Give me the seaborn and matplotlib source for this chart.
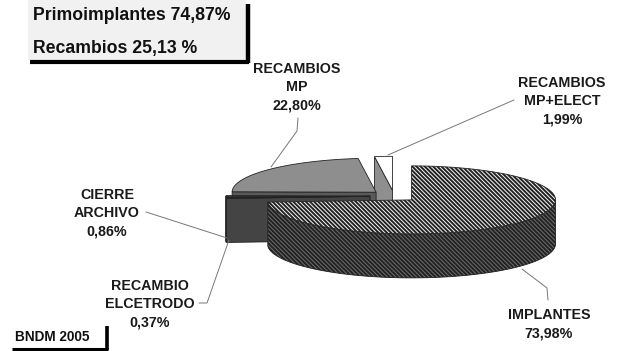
import numpy as np
import matplotlib
matplotlib.use("Agg")
import matplotlib.pyplot as plt
from matplotlib.patches import Polygon, Rectangle
import seaborn as sns

# ---- data -------------------------------------------------------------
categories = ["IMPLANTES", "RECAMBIO\nELCETRODO", "CIERRE\nARCHIVO",
              "RECAMBIOS\nMP", "RECAMBIOS\nMP+ELECT"]
shares = [73.98, 0.37, 0.86, 22.80, 1.99]
primo_pct = 74.87
recambio_pct = 25.13
source_note = "BNDM 2005"

# ---- style ------------------------------------------------------------
sns.set_theme(style="white")
plt.rcParams["font.family"] = ["Liberation Sans", "DejaVu Sans"]
plt.rcParams["hatch.linewidth"] = 1.4

top_colors = ["#f4f4f4", "#4a4a4a", "#333333", "#8e8e8e", "#ffffff"]
side_colors = ["#6e6e6e", "#444444", "#2e2e2e", "#5a5a5a", "#8f8f8f"]
hatches = ["\\" * 8, None, None, None, None]
edge = "#222222"

label_pos = [(549, 324), (150, 304), (107, 213), (297, 87), (562, 101)]
leaders = [
    [(548, 300), (547, 288), (522, 269)],
    [(199, 303), (207, 303), (229, 240)],
    [(146, 212), (227, 238)],
    [(298, 118), (297, 131), (271, 167)],
    [(514, 100), (388, 155)],
]

# pie geometry in pixel units
CX, CY = 394, 196
RX, RY = 144, 34
H = 44
D = 24


def fmt_pct(v):
    return f"{v:.2f}".replace(".", ",") + "%"


def rim(cx, cy, t_deg, down=0.0):
    t = np.radians(t_deg)
    return cx + RX * np.cos(t), cy - RY * np.sin(t) + down


def arc(cx, cy, t1, t2, down=0.0):
    n = max(3, int(abs(t2 - t1) * 2))
    ts = np.linspace(t1, t2, n)
    return [rim(cx, cy, t, down) for t in ts]


fig = plt.figure(figsize=(6.21, 3.51), dpi=100)
ax = fig.add_axes([0, 0, 1, 1])
ax.set_xlim(0, 621)
ax.set_ylim(351, 0)
ax.axis("off")

# slice angles: start at 12 o'clock, run clockwise
cum = np.concatenate([[0], np.cumsum(shares)])
total = cum[-1]
slices = []
for i, v in enumerate(shares):
    a_start = 90 - 360 * cum[i] / total
    a_end = 90 - 360 * cum[i + 1] / total
    t1, t2 = a_end, a_start
    mid = np.radians((t1 + t2) / 2)
    cx = CX + D * np.cos(mid)
    cy = CY - D * np.sin(mid) * RY / RX
    slices.append(dict(i=i, t1=t1, t2=t2, cx=cx, cy=cy, depth=np.sin(mid)))

# back-to-front drawing
z = 1
for s in sorted(slices, key=lambda s: -s["depth"]):
    i, t1, t2, cx, cy = s["i"], s["t1"], s["t2"], s["cx"], s["cy"]
    side_kw = dict(facecolor=side_colors[i], edgecolor=edge, linewidth=0.6,
                   hatch=hatches[i], zorder=z)
    # radial cut faces
    if np.cos(np.radians(t1)) > 1e-9:
        p = [(cx, cy), rim(cx, cy, t1), rim(cx, cy, t1, H), (cx, cy + H)]
        ax.add_patch(Polygon(p, closed=True, **side_kw))
    if np.cos(np.radians(t2)) < -1e-9:
        p = [(cx, cy), rim(cx, cy, t2), rim(cx, cy, t2, H), (cx, cy + H)]
        ax.add_patch(Polygon(p, closed=True, **side_kw))
    # outer wall, front half only
    for k in range(-2, 3):
        lo = max(t1, 180 + 360 * k)
        hi = min(t2, 360 + 360 * k)
        if hi > lo:
            p = arc(cx, cy, lo, hi) + arc(cx, cy, hi, lo, H)
            ax.add_patch(Polygon(p, closed=True, **side_kw))
    # top face
    p = [(cx, cy)] + arc(cx, cy, t1, t2)
    ax.add_patch(Polygon(p, closed=True, facecolor=top_colors[i],
                         edgecolor=edge, linewidth=0.6, hatch=hatches[i],
                         zorder=z + 0.5))
    z += 1

# labels and leader lines
for i, v in enumerate(shares):
    x, y = label_pos[i]
    ax.text(x, y, f"{categories[i]}\n{fmt_pct(v)}", ha="center", va="center",
            multialignment="center", fontsize=10.3, fontweight="bold",
            linespacing=1.38, color="#1a1a1a", zorder=20)
    lx, ly = zip(*leaders[i])
    ax.plot(lx, ly, color="#777777", linewidth=0.7, zorder=19)

# summary box
ax.add_patch(Rectangle((28, 0), 218, 60, facecolor="#f1f1f1",
                       edgecolor="none", zorder=1))
ax.plot([247.5, 247.5], [4, 63], color="black", linewidth=3.2,
        solid_capstyle="butt", zorder=2)
ax.plot([30, 249], [61.8, 61.8], color="black", linewidth=3.0,
        solid_capstyle="butt", zorder=2)
ax.text(33, 15, f"Primoimplantes {fmt_pct(primo_pct)}", ha="left",
        va="center", fontsize=12.7, fontweight="bold", color="#111111", zorder=3)
ax.text(33, 48, f"Recambios {fmt_pct(recambio_pct)[:-1]} %", ha="left",
        va="center", fontsize=12.7, fontweight="bold", color="#111111", zorder=3)

# source note
ax.text(15, 337, source_note, ha="left", va="center", fontsize=9.8,
        fontweight="bold", color="#111111", zorder=3)
ax.plot([107, 107], [326, 350], color="black", linewidth=2.6,
        solid_capstyle="butt", zorder=2)
ax.plot([12, 108], [348.8, 348.8], color="black", linewidth=2.2,
        solid_capstyle="butt", zorder=2)

fig.savefig("out.png", dpi=100, facecolor="white")
